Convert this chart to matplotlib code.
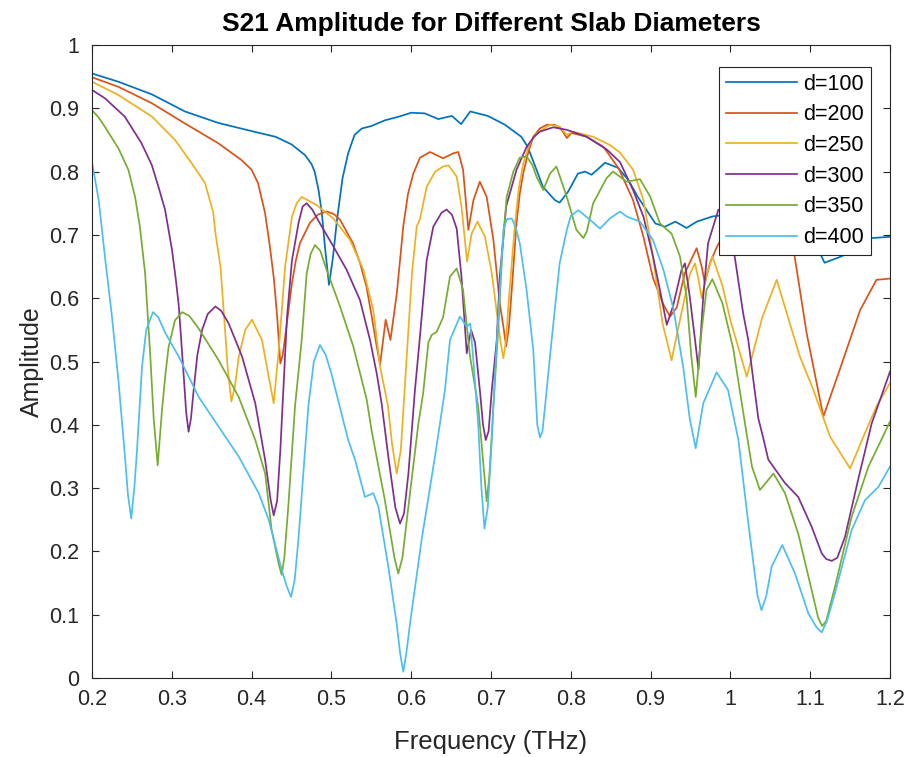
import matplotlib
matplotlib.use("Agg")
import matplotlib.pyplot as plt
from matplotlib.ticker import FuncFormatter

plt.rcParams['font.family'] = ['Liberation Sans', 'DejaVu Sans']

# d = 100
f100 = [0.2, 0.233, 0.275, 0.3165, 0.358, 0.4, 0.43, 0.45, 0.467, 0.475, 0.479, 0.484, 0.488,
        0.492, 0.497, 0.502, 0.507, 0.514, 0.521, 0.529, 0.538, 0.55, 0.567, 0.585, 0.6, 0.617,
        0.634, 0.651, 0.6625, 0.674, 0.696, 0.7175, 0.738, 0.746, 0.757, 0.765, 0.78, 0.786,
        0.7965, 0.809, 0.818, 0.826, 0.843, 0.859, 0.872, 0.884, 0.906, 0.918, 0.931, 0.945,
        0.958, 0.977, 1.0, 1.03, 1.06, 1.09, 1.105, 1.118, 1.139, 1.16, 1.177, 1.2]
a100 = [0.955, 0.942, 0.922, 0.895, 0.877, 0.864, 0.855, 0.843, 0.826, 0.812, 0.80, 0.77, 0.735,
        0.68, 0.621, 0.665, 0.724, 0.79, 0.829, 0.858, 0.868, 0.872, 0.881, 0.887, 0.893, 0.892,
        0.883, 0.888, 0.875, 0.895, 0.888, 0.874, 0.855, 0.839, 0.803, 0.776, 0.755, 0.751,
        0.768, 0.797, 0.80, 0.795, 0.814, 0.806, 0.787, 0.760, 0.718, 0.713, 0.721, 0.711,
        0.721, 0.729, 0.733, 0.735, 0.73, 0.715, 0.69, 0.656, 0.666, 0.679, 0.695, 0.697]

# d = 200
f200 = [0.2, 0.233, 0.275, 0.3165, 0.358, 0.3876, 0.4, 0.408, 0.4168, 0.423, 0.428, 0.432, 0.436,
        0.439, 0.442, 0.4506, 0.4555, 0.4606, 0.473, 0.483, 0.494, 0.503, 0.5108, 0.527, 0.536,
        0.544, 0.55, 0.5568, 0.561, 0.568, 0.574, 0.582, 0.586, 0.590, 0.596, 0.6027, 0.611,
        0.6236, 0.640, 0.653, 0.659, 0.665, 0.6716, 0.678, 0.686, 0.6946, 0.703, 0.711, 0.7155,
        0.719, 0.7225, 0.726, 0.732, 0.736, 0.7405, 0.747, 0.753, 0.761, 0.770, 0.780, 0.7886,
        0.795, 0.801, 0.82, 0.841, 0.86, 0.878, 0.891, 0.903, 0.916, 0.9243, 0.9327, 0.943,
        0.9577, 0.964, 0.968, 0.9745, 0.983, 1.0, 1.03, 1.06, 1.079, 1.0955, 1.1165, 1.137,
        1.1625, 1.183, 1.2]
a200 = [0.949, 0.934, 0.908, 0.876, 0.845, 0.818, 0.803, 0.782, 0.735, 0.681, 0.63, 0.571, 0.497,
        0.51, 0.539, 0.624, 0.66, 0.687, 0.719, 0.732, 0.737, 0.733, 0.724, 0.687, 0.655,
        0.618, 0.575, 0.524, 0.495, 0.566, 0.534, 0.608, 0.66, 0.713, 0.765, 0.797, 0.822,
        0.831, 0.821, 0.829, 0.831, 0.803, 0.708, 0.755, 0.784, 0.760, 0.692, 0.592, 0.555,
        0.524, 0.555, 0.613, 0.719, 0.765, 0.798, 0.832, 0.855, 0.868, 0.874, 0.874, 0.866,
        0.853, 0.861, 0.855, 0.839, 0.805, 0.755, 0.697, 0.632, 0.59, 0.571, 0.585, 0.640,
        0.679, 0.650, 0.624, 0.656, 0.681, 0.72, 0.75, 0.735, 0.678, 0.545, 0.413, 0.487,
        0.581, 0.629, 0.631]

# d = 250
f250 = [0.2, 0.233, 0.275, 0.304, 0.325, 0.3416, 0.352, 0.3546, 0.361, 0.367, 0.37, 0.3746,
        0.379, 0.384, 0.392, 0.4005, 0.413, 0.4214, 0.4277, 0.434, 0.442, 0.4506, 0.4565,
        0.4628, 0.4816, 0.5024, 0.5233, 0.54, 0.5525, 0.561, 0.571, 0.576, 0.5818, 0.587, 0.590,
        0.5965, 0.601, 0.6069, 0.611, 0.6194, 0.63, 0.640, 0.6466, 0.657, 0.663, 0.670, 0.6757,
        0.683, 0.6925, 0.701, 0.705, 0.709, 0.712, 0.7155, 0.719, 0.7217, 0.730, 0.735, 0.7405,
        0.748, 0.757, 0.774, 0.786, 0.795, 0.803, 0.828, 0.849, 0.8617, 0.878, 0.891, 0.8997,
        0.9077, 0.915, 0.9263, 0.9368, 0.9494, 0.9557, 0.96, 0.964, 0.97, 0.9774, 0.99, 1.0,
        1.0205, 1.04, 1.058, 1.087, 1.104, 1.125, 1.15, 1.1666, 1.183, 1.2]
a250 = [0.942, 0.921, 0.887, 0.850, 0.813, 0.782, 0.735, 0.703, 0.650, 0.545, 0.49, 0.437,
        0.46, 0.508, 0.55, 0.566, 0.534, 0.476, 0.434, 0.518, 0.650, 0.729, 0.75,
        0.760, 0.747, 0.726, 0.692, 0.645, 0.581, 0.492, 0.429, 0.37, 0.323, 0.36, 0.42,
        0.55, 0.64, 0.713, 0.725, 0.776, 0.80, 0.808, 0.81, 0.792, 0.745, 0.658, 0.702,
        0.721, 0.697, 0.639, 0.60, 0.560, 0.53, 0.505, 0.535, 0.587, 0.718, 0.775, 0.813,
        0.843, 0.860, 0.874, 0.871, 0.858, 0.863, 0.855, 0.842, 0.83, 0.803, 0.755, 0.692,
        0.624, 0.56, 0.502, 0.566, 0.639, 0.655, 0.63, 0.60, 0.635, 0.666, 0.62, 0.565,
        0.476, 0.57, 0.629, 0.508, 0.455, 0.381, 0.331, 0.381, 0.429, 0.466]

# d = 300
f300 = [0.2, 0.216, 0.241, 0.262, 0.275, 0.2835, 0.2915, 0.3003, 0.305, 0.3086, 0.312, 0.315,
        0.318, 0.321, 0.324, 0.3274, 0.332, 0.338, 0.345, 0.3546, 0.362, 0.3713, 0.388, 0.4046,
        0.417, 0.424, 0.4277, 0.432, 0.436, 0.4444, 0.4506, 0.459, 0.464, 0.469, 0.476, 0.4857,
        0.5024, 0.519, 0.5358, 0.5484, 0.5568, 0.563, 0.5713, 0.58, 0.586, 0.591, 0.5965,
        0.6047, 0.611, 0.6194, 0.6277, 0.638, 0.6444, 0.651, 0.657, 0.663, 0.6696, 0.675, 0.68,
        0.6864, 0.69, 0.6934, 0.697, 0.701, 0.7072, 0.711, 0.719, 0.732, 0.7446, 0.754, 0.761,
        0.778, 0.795, 0.82, 0.845, 0.8617, 0.878, 0.891, 0.903, 0.9117, 0.9203, 0.928, 0.9388,
        0.943, 0.949, 0.9557, 0.96, 0.966, 0.972, 0.985, 0.995, 1.0036, 1.016, 1.0224, 1.0287,
        1.035, 1.041, 1.0475, 1.0684, 1.085, 1.1018, 1.1144, 1.12, 1.127, 1.134, 1.1436, 1.160,
        1.177, 1.2]
a300 = [0.929, 0.916, 0.887, 0.845, 0.81, 0.775, 0.74, 0.676, 0.63, 0.59, 0.53, 0.476,
        0.42, 0.389, 0.41, 0.455, 0.51, 0.55, 0.575, 0.587, 0.58, 0.560, 0.508, 0.434,
        0.344, 0.28, 0.257, 0.28, 0.360, 0.571, 0.66, 0.72, 0.745, 0.750, 0.74, 0.718,
        0.682, 0.645, 0.597, 0.534, 0.481, 0.433, 0.35, 0.27, 0.244, 0.26, 0.323,
        0.455, 0.54, 0.66, 0.713, 0.735, 0.740, 0.732, 0.710, 0.634, 0.513, 0.55, 0.53,
        0.45, 0.40, 0.376, 0.39, 0.455, 0.534, 0.634, 0.745, 0.803, 0.839, 0.855, 0.863,
        0.870, 0.866, 0.855, 0.835, 0.815, 0.771, 0.729, 0.666, 0.613, 0.558, 0.587, 0.645,
        0.655, 0.603, 0.534, 0.487, 0.603, 0.687, 0.74, 0.73, 0.681, 0.576, 0.534, 0.471,
        0.41, 0.38, 0.345, 0.308, 0.286, 0.239, 0.197, 0.188, 0.185, 0.19, 0.223, 0.313,
        0.402, 0.484]

# d = 350
f350 = [0.2, 0.208, 0.216, 0.225, 0.233, 0.2455, 0.254, 0.26, 0.2665, 0.273, 0.2773, 0.2823,
        0.2877, 0.292, 0.296, 0.304, 0.3128, 0.322, 0.3337, 0.3587, 0.3838, 0.4046, 0.417,
        0.425, 0.434, 0.4377, 0.441, 0.446, 0.4544, 0.4628, 0.469, 0.474, 0.4794, 0.486, 0.494,
        0.5108, 0.5274, 0.5442, 0.5505, 0.567, 0.579, 0.5838, 0.589, 0.5965, 0.609, 0.615,
        0.6215, 0.6257, 0.632, 0.640, 0.6486, 0.657, 0.665, 0.6737, 0.684, 0.691, 0.6946, 0.698,
        0.703, 0.709, 0.714, 0.7196, 0.728, 0.736, 0.7446, 0.752, 0.757, 0.7655, 0.774, 0.782,
        0.795, 0.807, 0.8157, 0.82, 0.828, 0.845, 0.853, 0.87, 0.8867, 0.8997, 0.9117, 0.9263,
        0.9368, 0.945, 0.951, 0.9566, 0.964, 0.970, 0.9774, 0.99, 1.0036, 1.016, 1.027, 1.037,
        1.054, 1.0684, 1.085, 1.1018, 1.11, 1.115, 1.12, 1.131, 1.152, 1.173, 1.2]
a350 = [0.897, 0.886, 0.871, 0.853, 0.837, 0.803, 0.76, 0.713, 0.64, 0.51, 0.41, 0.336,
        0.423, 0.48, 0.523, 0.565, 0.578, 0.572, 0.552, 0.502, 0.444, 0.376, 0.323,
        0.235, 0.18, 0.163, 0.19, 0.271, 0.429, 0.534, 0.639, 0.67, 0.684, 0.675, 0.645,
        0.587, 0.524, 0.44, 0.39, 0.281, 0.19, 0.165, 0.19, 0.271, 0.402, 0.45,
        0.53, 0.542, 0.547, 0.57, 0.634, 0.647, 0.613, 0.508, 0.429, 0.33, 0.279, 0.32,
        0.43, 0.55, 0.67, 0.76, 0.80, 0.822, 0.824, 0.81, 0.792, 0.771, 0.797, 0.808,
        0.760, 0.708, 0.695, 0.705, 0.750, 0.79, 0.80, 0.784, 0.788, 0.760, 0.718, 0.702,
        0.666, 0.603, 0.508, 0.444, 0.55, 0.613, 0.630, 0.592, 0.52, 0.42, 0.334, 0.297,
        0.323, 0.292, 0.228, 0.139, 0.095, 0.082, 0.09, 0.144, 0.255, 0.334, 0.405]

# d = 400
f400 = [0.2, 0.2084, 0.2167, 0.225, 0.2334, 0.2417, 0.245, 0.2492, 0.253, 0.2564, 0.2627, 0.268,
        0.2764, 0.283, 0.2919, 0.3086, 0.3337, 0.3587, 0.3838, 0.4089, 0.4214, 0.4377, 0.444,
        0.4494, 0.454, 0.4586, 0.4711, 0.478, 0.4857, 0.493, 0.500, 0.521, 0.5296, 0.542,
        0.5525, 0.5588, 0.5713, 0.5818, 0.586, 0.5901, 0.594, 0.5985, 0.613, 0.6298, 0.6423,
        0.6486, 0.661, 0.6696, 0.674, 0.678, 0.684, 0.688, 0.6918, 0.696, 0.701, 0.705, 0.7155,
        0.72, 0.726, 0.731, 0.736, 0.7446, 0.753, 0.758, 0.7614, 0.7645, 0.7677, 0.776, 0.786,
        0.795, 0.80, 0.8094, 0.824, 0.8366, 0.849, 0.8617, 0.87, 0.8867, 0.903, 0.916, 0.9285,
        0.941, 0.949, 0.9565, 0.966, 0.9827, 0.997, 1.01, 1.0225, 1.034, 1.039, 1.045, 1.0517,
        1.065, 1.081, 1.0977, 1.108, 1.1144, 1.121, 1.131, 1.152, 1.1687, 1.1855, 1.2]
a400 = [0.815, 0.755, 0.66, 0.571, 0.466, 0.344, 0.29, 0.252, 0.30, 0.36, 0.492, 0.55,
        0.578, 0.57, 0.545, 0.508, 0.444, 0.397, 0.35, 0.292, 0.25, 0.171, 0.145,
        0.128, 0.155, 0.218, 0.429, 0.50, 0.526, 0.51, 0.481, 0.376, 0.345, 0.286,
        0.292, 0.271, 0.176, 0.086, 0.04, 0.010, 0.04, 0.086, 0.218, 0.35, 0.455,
        0.534, 0.571, 0.555, 0.56, 0.50, 0.40, 0.30, 0.236, 0.27, 0.376, 0.481, 0.708,
        0.725, 0.726, 0.712, 0.687, 0.613, 0.518, 0.40, 0.380, 0.39, 0.429, 0.534, 0.655,
        0.708, 0.73, 0.739, 0.724, 0.710, 0.726, 0.737, 0.729, 0.721, 0.692, 0.645, 0.584,
        0.49, 0.41, 0.363, 0.434, 0.483, 0.455, 0.376, 0.244, 0.13, 0.107, 0.13, 0.176,
        0.210, 0.165, 0.102, 0.08, 0.072, 0.09, 0.134, 0.234, 0.281, 0.302, 0.334]

labels = ['d=100', 'd=200', 'd=250', 'd=300', 'd=350', 'd=400']
colors = ['#0072BD', '#D95319', '#EDB120', '#7E2F8E', '#77AC30', '#4DBEEE']

fig = plt.figure(figsize=(9.12, 7.57), dpi=100)
ax = fig.add_axes([92 / 912, 79 / 757, 798 / 912, 633 / 757])

series = [(f100, a100), (f200, a200), (f250, a250), (f300, a300), (f350, a350), (f400, a400)]
for (f, a), lab, c in zip(series, labels, colors):
    ax.plot(f, a, color=c, linewidth=1.25, label=lab)

ax.set_xlim(0.2, 1.2)
ax.set_ylim(0, 1)
ax.set_xticks([0.2, 0.3, 0.4, 0.5, 0.6, 0.7, 0.8, 0.9, 1.0, 1.1, 1.2])
ax.set_yticks([0, 0.1, 0.2, 0.3, 0.4, 0.5, 0.6, 0.7, 0.8, 0.9, 1.0])
fmt = FuncFormatter(lambda v, p: ('%g' % round(v, 2)))
ax.xaxis.set_major_formatter(fmt)
ax.yaxis.set_major_formatter(fmt)
ax.tick_params(direction='in', top=True, right=True, length=5, width=0.8,
               labelsize=15.5, colors='#262626')
ax.tick_params(axis='x', pad=8)
ax.tick_params(axis='y', pad=9)
for s in ax.spines.values():
    s.set_color('#262626')
    s.set_linewidth(0.8)

ax.set_xlabel('Frequency (THz)', fontsize=18.5, color='#262626', labelpad=14)
ax.set_ylabel('Amplitude', fontsize=18, color='#262626', labelpad=4)
ax.set_title('S21 Amplitude for Different Slab Diameters', fontsize=19, fontweight='bold',
             pad=10)

leg = ax.legend(loc='upper right', bbox_to_anchor=(0.9758, 0.9657), fontsize=15.5,
                handlelength=3.3, labelspacing=0.45, borderpad=0.32, handletextpad=0.28,
                fancybox=False, framealpha=1, edgecolor='#262626', borderaxespad=0)
leg.get_frame().set_linewidth(0.8)

fig.savefig('out.png', dpi=100)
